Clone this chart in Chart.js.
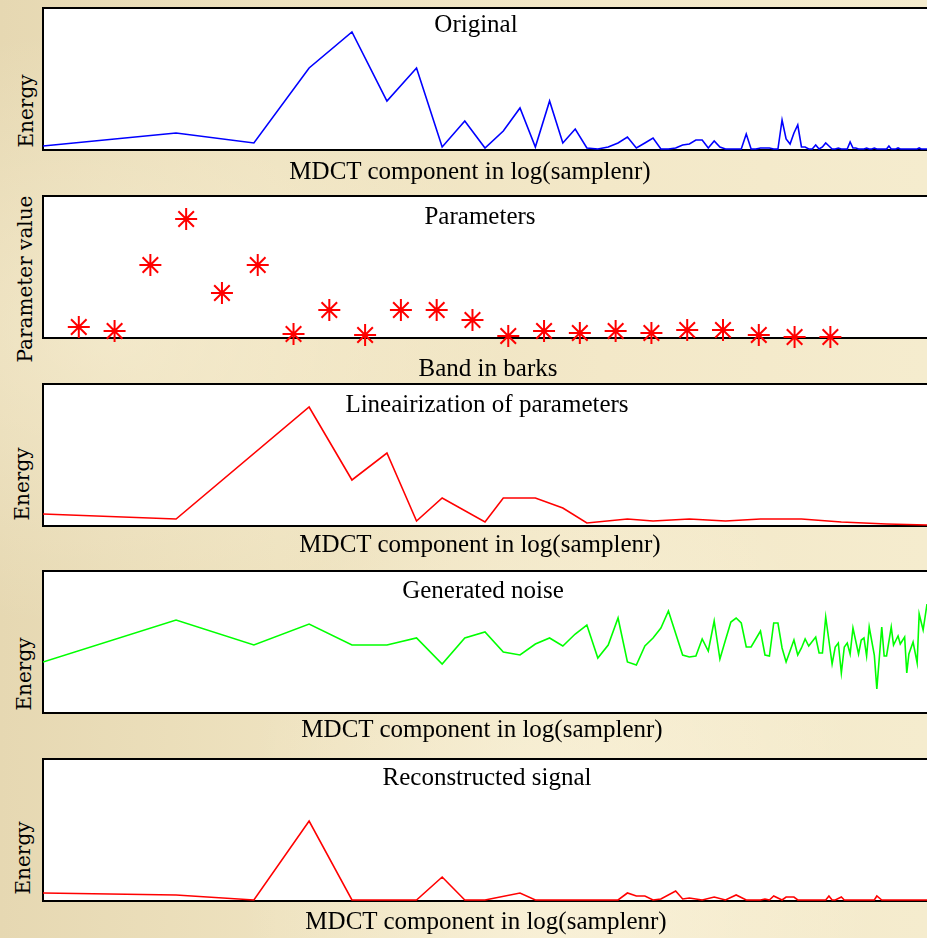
<!DOCTYPE html>
<html>
<head>
<meta charset="utf-8">
<script src="https://cdn.jsdelivr.net/npm/chart.js@4.4.0/dist/chart.umd.min.js"></script>
<style>
html, body { margin: 0; padding: 0; }
body {
    width: 927px; height: 938px; position: relative; overflow: hidden;
    background:
        radial-gradient(ellipse at 12% 35%, rgba(255,248,225,0.45), rgba(255,248,225,0) 35%),
        radial-gradient(ellipse at 60% 95%, rgba(255,250,232,0.5), rgba(255,250,232,0) 40%),
        linear-gradient(90deg, #e6d8b2 0%, #eee2bf 30%, #f3e8c8 65%, #f5ecce 100%);
}
canvas { position: absolute; }
.lbl {
    position: absolute; z-index: 2; white-space: nowrap; color: #000;
    font-family: "Liberation Serif", "Times New Roman", serif;
    font-size: 25px; line-height: 25px;
    transform: translate(-50%, -50%);
}
.ylbl {
    position: absolute; z-index: 2; white-space: nowrap; color: #000;
    font-family: "DejaVu Serif", serif;
    font-size: 20px; line-height: 20px;
    transform: translate(-50%, -50%) rotate(-90deg);
}
</style>
</head>
<body>

<canvas id="c1" width="889" height="159" style="left:38px;top:3px"></canvas>
<canvas id="c2" width="889" height="159" style="left:38px;top:191px"></canvas>
<canvas id="c3" width="889" height="159" style="left:38px;top:379px"></canvas>
<canvas id="c4" width="889" height="159" style="left:38px;top:566px"></canvas>
<canvas id="c5" width="889" height="159" style="left:38px;top:754px"></canvas>

<div class="lbl" style="left:476px;top:23px">Original</div>
<div class="lbl" style="left:470px;top:170px">MDCT component in log(samplenr)</div>
<div class="ylbl" style="left:26px;top:111px">Energy</div>

<div class="lbl" style="left:480px;top:215px">Parameters</div>
<div class="lbl" style="left:488px;top:367px">Band in barks</div>
<div class="ylbl" style="left:25px;top:279px">Parameter value</div>

<div class="lbl" style="left:487px;top:403px">Lineairization of parameters</div>
<div class="lbl" style="left:480px;top:543px">MDCT component in log(samplenr)</div>
<div class="ylbl" style="left:22px;top:484px">Energy</div>

<div class="lbl" style="left:483px;top:589px">Generated noise</div>
<div class="lbl" style="left:482px;top:728px">MDCT component in log(samplenr)</div>
<div class="ylbl" style="left:24px;top:674px">Energy</div>

<div class="lbl" style="left:487px;top:776px">Reconstructed signal</div>
<div class="lbl" style="left:486px;top:920px">MDCT component in log(samplenr)</div>
<div class="ylbl" style="left:23px;top:858px">Energy</div>

<script>
// ---- data (energy in arbitrary units, x = MDCT sample number on a log axis) ----
const ORIG_N = [1,2,3,4,5,6,7,8,9,10, 11,12,13,14,15,16,17,18,19,20,
    21,22,23,24,25,26,27,28,29,30, 31,32,33,34,35,36,37,38,39,40,
    41,42,43,44,45,46,47,48,49,50, 51,52,53,54,55,56,57,58,59,60,
    61,62,63,64,65,66,67,68,69,70, 71,72,73,74,75,76,77,78,79,80,
    81,82,83,84,85,86,87,88,89,90, 91,92,93,94,95,96,97,98,99,100];
const ORIG_E = [4,17,7,82,118,49,82,3,29,2, 19,42,3,49,7,21,2,1,3,7,
    13,2,7,12,1,1,2,5,6,10, 10,2,9,3,1,1,1,1,16,1,
    1,2,2,2,1,1,30,11,6,17, 25,3,3,1,1,5,1,3,7,4,
    1,1,2,1,1,1,8,2,2,1, 1,1,2,1,1,2,1,1,1,1,
    1,4,1,1,1,2,1,1,1,1, 1,1,1,1,1,2,1,1,1,1];

// band parameters (barks)
const PARAM_BAND = [1,2,3,4,5,6,7,8,9,10,11,12,13,14,15,16,17,18,19,20,21,22];
const PARAM_VAL  = [11,7,73,119,45,73,4,28,3,28,28,18,2,7,5,7,5,8,8,3,1,1];

// linearization of parameters
const LIN_N = [1,2,4,5,6,7,8,10,11,13,15,17,21,24,29,35,42,52,64,81,100];
const LIN_E = [12,7,119,46,73,5,28,4,28,28,18,3,7,5,7,5,7,7,4,2,1];

// generated noise
const NOISE_N = [1,2,3,4,5,6,7,8,9,10,11,12,13,14,15,16,17,18,19,20,21,22,23,24,25,26,
    28,29,30,31,32,33,34,35,36,37,38,39,40,42,43,44,45,46,47,48,50,51,52,53,54,56,57,58,59,
    61,62,63,64,65,66,67,68,70,71,72,73,74,76,77,79,80,81,83,84,86,87,89,90,91,93,95,96,98,100];
const NOISE_E = [51,93,68,89,68,68,75,49,75,81,61,58,69,75,67,79,88,55,68,95,51,48,67,75,85,102,
    58,56,57,74,62,92,54,73,91,95,90,66,66,82,58,57,90,90,65,51,73,58,65,74,67,76,60,60,96,
    49,66,70,40,66,70,59,85,59,73,75,57,86,58,24,86,57,57,86,68,77,69,76,40,59,71,50,99,83,109];

// reconstructed signal
const RECON_N = [1,2,3,4,5,7,8,9,10,12,13,20,21,22,23,24,25,27,28,29,31,33,35,37,39,
    42,43,44,45,47,48,50,51,59,60,61,62,64,65,76,77,79,100];
const RECON_E = [8,6,1,80,1,1,24,1,1,8,1,1,8,5,5,1,2,10,2,3,1,4,1,6,1,
    1,2,1,5,1,4,4,1,1,5,1,1,4,1,1,5,1,1];

const E_MAX = 142;

// white plot area + black frame (no right edge, the figure is cut there)
const framePlugin = {
    id: 'frame',
    beforeDraw(chart) {
        const { ctx, chartArea: a } = chart;
        ctx.save();
        ctx.fillStyle = '#ffffff';
        ctx.fillRect(a.left, a.top, a.right - a.left, a.bottom - a.top);
        ctx.restore();
    },
    beforeDatasetsDraw(chart) {
        const { ctx, chartArea: a } = chart;
        ctx.save();
        ctx.strokeStyle = '#000';
        ctx.lineWidth = 2;
        ctx.beginPath();
        ctx.moveTo(a.right + 2, a.top);
        ctx.lineTo(a.left, a.top);
        ctx.lineTo(a.left, a.bottom);
        ctx.lineTo(a.right + 2, a.bottom);
        ctx.stroke();
        ctx.restore();
    }
};

function zip(xs, ys) {
    return xs.map((x, i) => ({ x: x, y: ys[i] }));
}

function makeChart(id, type, xOpts, dataset) {
    return new Chart(document.getElementById(id), {
        type: type,
        data: { datasets: [dataset] },
        options: {
            responsive: false,
            animation: false,
            devicePixelRatio: 1,
            layout: { autoPadding: false, padding: { left: 5, top: 5, right: 0, bottom: 12 } },
            plugins: { legend: { display: false }, tooltip: { enabled: false } },
            scales: {
                x: Object.assign({ display: false }, xOpts),
                y: { display: false, min: 0, max: E_MAX }
            }
        },
        plugins: [framePlugin]
    });
}

const logX = { type: 'logarithmic', min: 1, max: 100 };

function lineSet(xs, ys, color) {
    return {
        data: zip(xs, ys),
        borderColor: color,
        borderWidth: 1.6,
        pointRadius: 0,
        tension: 0,
        fill: false
    };
}

makeChart('c1', 'line', logX, lineSet(ORIG_N, ORIG_E, '#0000ff'));

makeChart('c2', 'scatter', { type: 'linear', min: 0, max: 24.7 }, {
    data: zip(PARAM_BAND, PARAM_VAL),
    pointStyle: 'star',
    pointRadius: 11,
    borderColor: '#ff0000',
    backgroundColor: '#ff0000',
    borderWidth: 2,
    clip: false
});

makeChart('c3', 'line', logX, lineSet(LIN_N, LIN_E, '#ff0000'));
makeChart('c4', 'line', logX, lineSet(NOISE_N, NOISE_E, '#00ff00'));
makeChart('c5', 'line', logX, lineSet(RECON_N, RECON_E, '#ff0000'));
</script>
</body>
</html>
